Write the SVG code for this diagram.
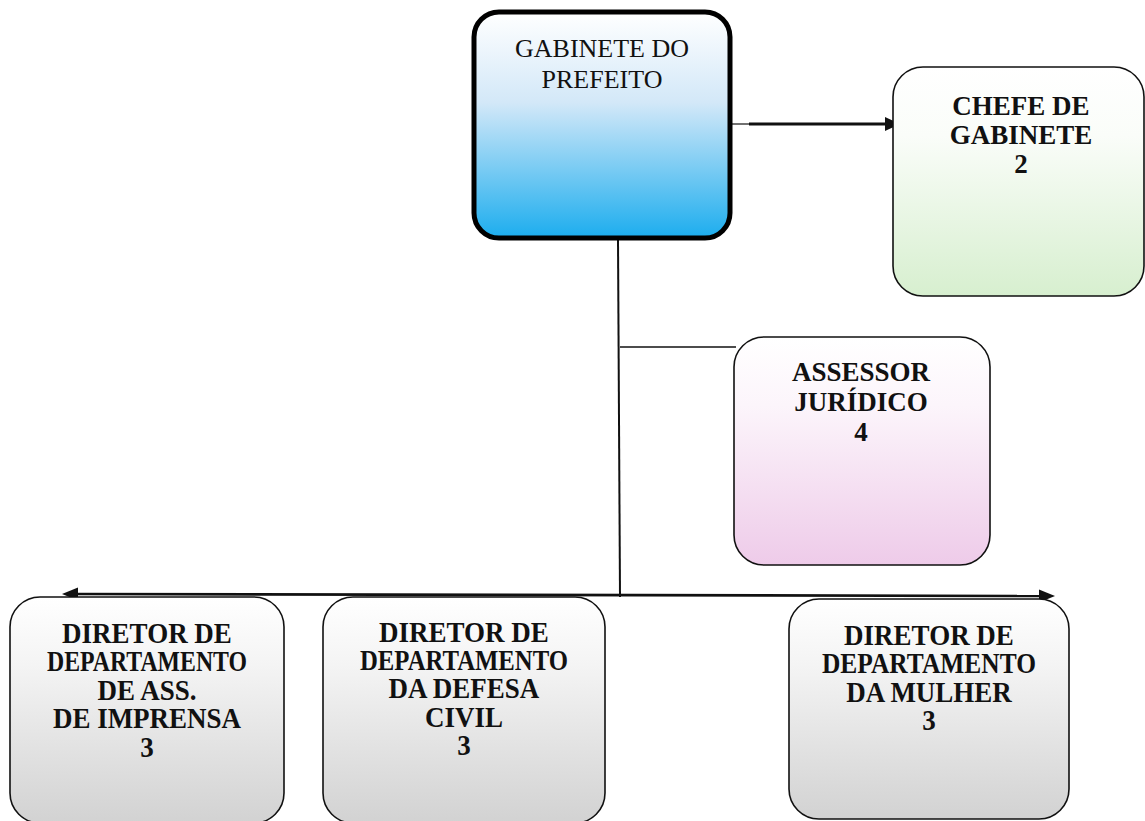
<svg xmlns="http://www.w3.org/2000/svg" width="1145" height="821" viewBox="0 0 1145 821">
<style>
.t{font-family:"Liberation Serif","Times New Roman",serif;text-anchor:middle;fill:#111}
.b{font-weight:bold;font-size:27px}
.r{font-size:26px}
.box{stroke:#111;stroke-width:1.6}
.ln{stroke:#111;fill:none}
.ah{fill:#111}
</style>
<defs>
<linearGradient id="gBlue" x1="0" y1="0" x2="0" y2="1">
<stop offset="0" stop-color="#ffffff"/><stop offset="0.4" stop-color="#d3e8f8"/><stop offset="1" stop-color="#1cadee"/>
</linearGradient>
<linearGradient id="gGreen" x1="0" y1="0" x2="0" y2="1">
<stop offset="0" stop-color="#ffffff"/><stop offset="0.3" stop-color="#fafdf9"/><stop offset="1" stop-color="#d7efcf"/>
</linearGradient>
<linearGradient id="gPink" x1="0" y1="0" x2="0" y2="1">
<stop offset="0" stop-color="#ffffff"/><stop offset="0.3" stop-color="#fcf5fb"/><stop offset="1" stop-color="#eecbe9"/>
</linearGradient>
<linearGradient id="gGrey" x1="0" y1="0" x2="0" y2="1">
<stop offset="0" stop-color="#ffffff"/><stop offset="0.3" stop-color="#f4f4f4"/><stop offset="1" stop-color="#d2d2d2"/>
</linearGradient>
</defs>

<g id="connectors">
<line class="ln" x1="732" y1="124" x2="750" y2="124" stroke-width="1.2"/>
<line class="ln" x1="749" y1="124" x2="888" y2="124" stroke-width="3"/>
<polygon class="ah" points="885,117 900,124 885,131"/>
<line class="ln" x1="618" y1="240" x2="620" y2="597" stroke-width="2"/>
<line class="ln" x1="620" y1="347" x2="736" y2="347" stroke-width="1.6"/>
<line class="ln" x1="72" y1="594" x2="1045" y2="596" stroke-width="2.6"/>
<polygon class="ah" points="62,594 78,587.5 78,600.5"/>
<polygon class="ah" points="1055,596 1039,589.5 1039,602.5"/>
</g>

<g id="gabinete">
<rect x="474" y="12" width="256" height="226" rx="25" fill="url(#gBlue)" stroke="#000" stroke-width="5"/>
<text class="t r" x="602" y="57">GABINETE DO</text>
<text class="t r" x="602" y="88">PREFEITO</text>
</g>

<g id="chefe">
<rect class="box" x="893" y="67" width="251" height="229" rx="30" fill="url(#gGreen)"/>
<text class="t b" x="1021" y="115">CHEFE DE</text>
<text class="t b" x="1021" y="144">GABINETE</text>
<text class="t b" x="1021" y="173">2</text>
</g>

<g id="assessor">
<rect class="box" x="734" y="337" width="256" height="228" rx="30" fill="url(#gPink)"/>
<text class="t b" x="861" y="381">ASSESSOR</text>
<text class="t b" x="861" y="411">JURÍDICO</text>
<text class="t b" x="861" y="441">4</text>
</g>

<g id="imprensa">
<rect class="box" x="10" y="597" width="274" height="226" rx="30" fill="url(#gGrey)"/>
<text class="t b" x="147" y="643" transform="matrix(1 0 0 1.1 0 -64.3)">DIRETOR DE</text>
<text class="t b" x="147" y="671" transform="matrix(1 0 0 1.1 0 -67.1)" textLength="200" lengthAdjust="spacingAndGlyphs">DEPARTAMENTO</text>
<text class="t b" x="147" y="700" transform="matrix(1 0 0 1.1 0 -70)">DE ASS.</text>
<text class="t b" x="147" y="728" transform="matrix(1 0 0 1.1 0 -72.8)">DE IMPRENSA</text>
<text class="t b" x="147" y="757" transform="matrix(1 0 0 1.1 0 -75.7)">3</text>
</g>

<g id="defesa">
<rect class="box" x="323" y="597" width="282" height="226" rx="30" fill="url(#gGrey)"/>
<text class="t b" x="464" y="642" transform="matrix(1 0 0 1.1 0 -64.2)">DIRETOR DE</text>
<text class="t b" x="464" y="670" transform="matrix(1 0 0 1.1 0 -67)" textLength="208" lengthAdjust="spacingAndGlyphs">DEPARTAMENTO</text>
<text class="t b" x="464" y="698" transform="matrix(1 0 0 1.1 0 -69.8)">DA DEFESA</text>
<text class="t b" x="464" y="727" transform="matrix(1 0 0 1.1 0 -72.7)">CIVIL</text>
<text class="t b" x="464" y="755" transform="matrix(1 0 0 1.1 0 -75.5)">3</text>
</g>

<g id="mulher">
<rect class="box" x="789" y="599" width="280" height="220" rx="30" fill="url(#gGrey)"/>
<text class="t b" x="929" y="645" transform="matrix(1 0 0 1.1 0 -64.5)">DIRETOR DE</text>
<text class="t b" x="929" y="673" transform="matrix(1 0 0 1.1 0 -67.3)" textLength="214" lengthAdjust="spacingAndGlyphs">DEPARTAMENTO</text>
<text class="t b" x="929" y="702" transform="matrix(1 0 0 1.1 0 -70.2)">DA MULHER</text>
<text class="t b" x="929" y="730" transform="matrix(1 0 0 1.1 0 -73)">3</text>
</g>
</svg>
